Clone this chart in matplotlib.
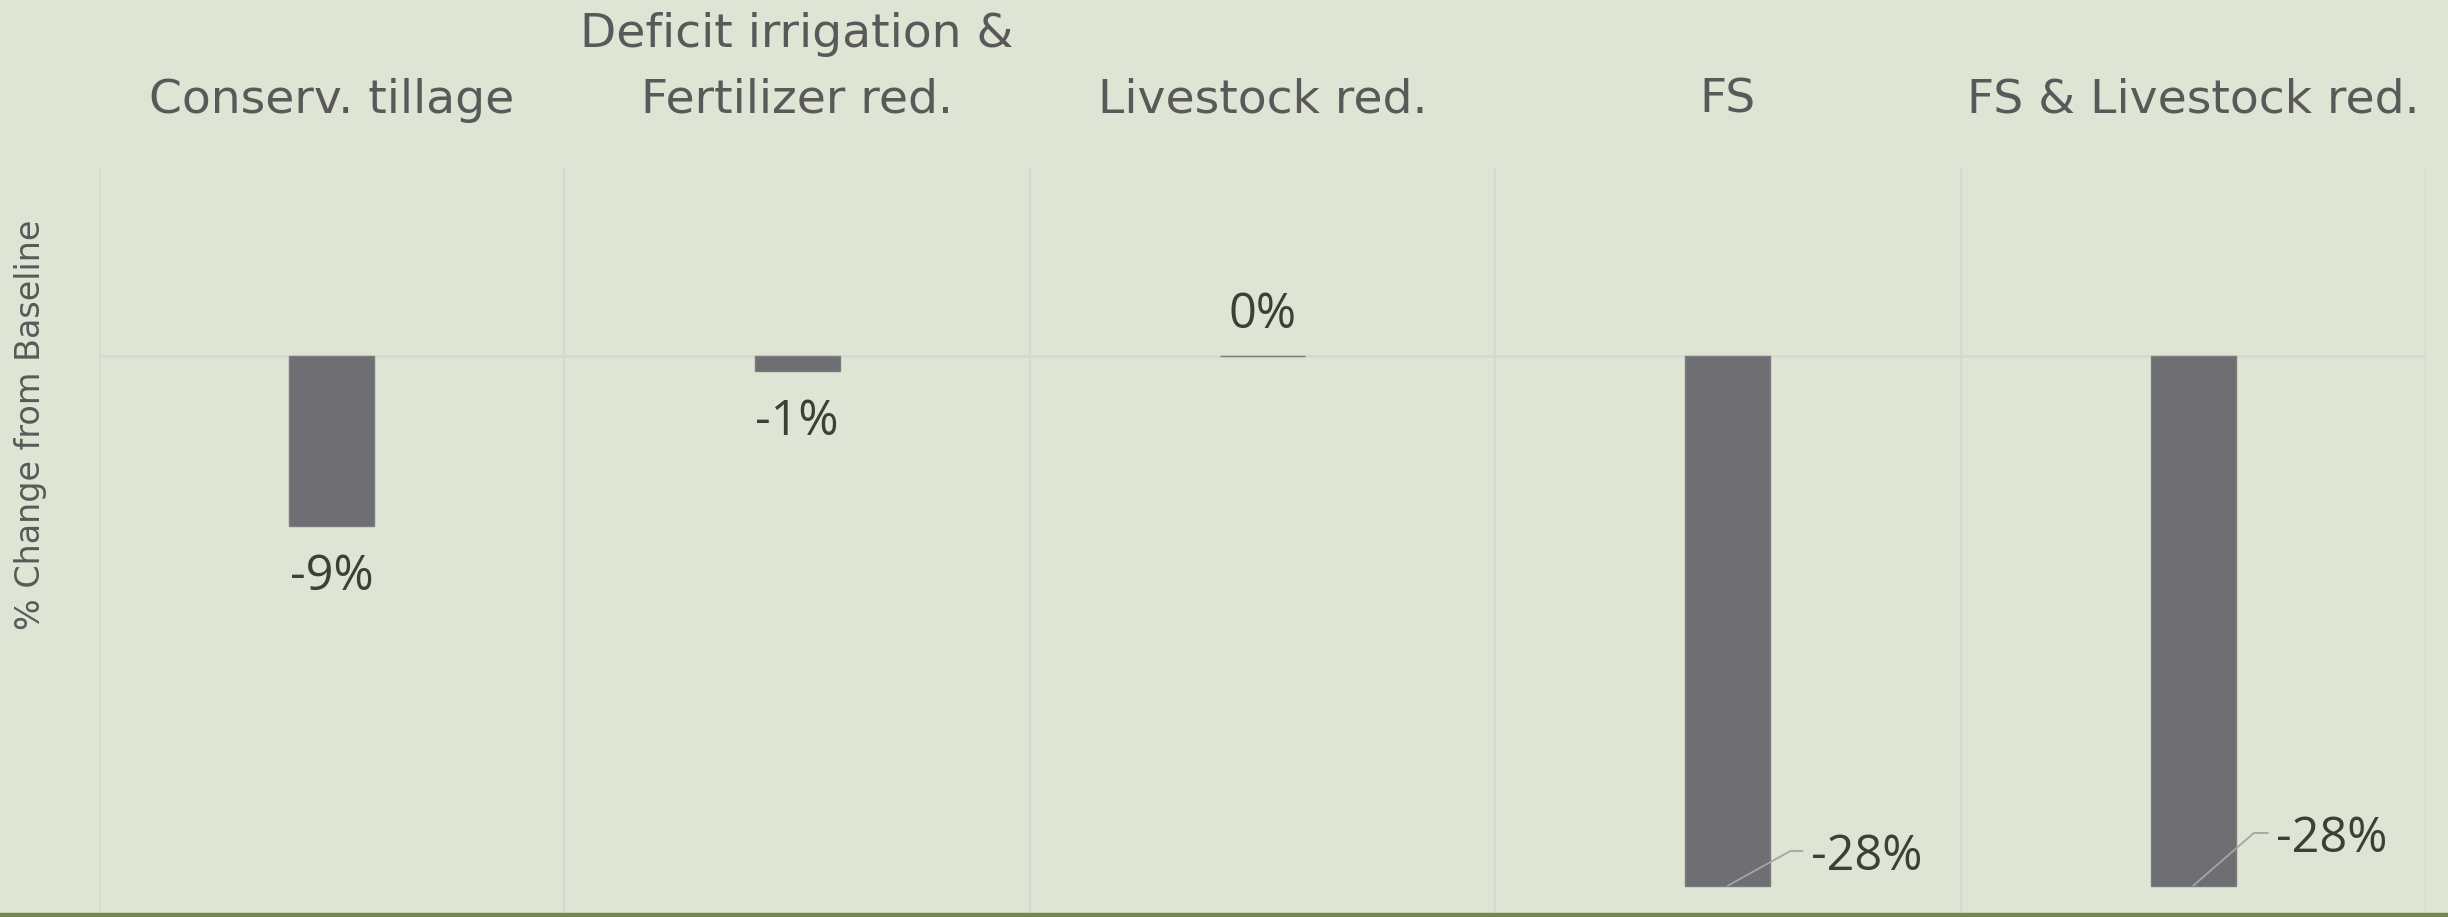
import matplotlib
matplotlib.use("Agg")
import matplotlib.pyplot as plt
from matplotlib.lines import Line2D

# ---- data ----
categories = ["Conserv. tillage", "Deficit irrigation &\nFertilizer red.", "Livestock red.",
              "FS", "FS & Livestock red."]
values = [-9.0, -0.8, 0.0, -28.0, -28.0]
value_labels = ["-9%", "-1%", "0%", "-28%", "-28%"]
ylabel = "% Change from Baseline"

# ---- style ----
BG = "#dee5d4"
BAR = "#6f6e73"
GRID = "#d6d9d2"
CAT_COL = "#595959"
LAB_COL = "#3d4134"
LEADER = "#a5a5a5"
GREEN = "#76884e"

W, H, DPI = 2448, 917, 100
fig = plt.figure(figsize=(W / DPI, H / DPI), dpi=DPI, facecolor=BG)
ax = fig.add_axes([99 / W, 1 - 914 / H, (2426 - 99) / W, (914 - 167) / H])
ax.set_facecolor(BG)

x = list(range(len(categories)))
bars = ax.bar(x, values, width=0.183, color=BAR, edgecolor="#7c7b80", linewidth=1.0, zorder=3)

ax.set_xlim(-0.5, len(categories) - 0.5)
ax.set_ylim(-29.5, 10)

# zero line and vertical separators
ax.axhline(0, color=GRID, lw=2, zorder=1)
ax.set_xticks([i - 0.5 for i in range(len(categories) + 1)], minor=True)
ax.grid(which="minor", axis="x", color=GRID, lw=1.6, zorder=0)
ax.tick_params(which="minor", length=0)

# category labels on top
ax.set_xticks(x)
ax.set_xticklabels(categories, fontfamily="DejaVu Sans", fontsize=34, color=CAT_COL, linespacing=1.58)
ax.xaxis.tick_top()
ax.tick_params(axis="x", which="major", length=0, pad=32)
ax.set_yticks([])
for s in ax.spines.values():
    s.set_visible(False)

# data labels
for i, (v, lab) in enumerate(zip(values, value_labels)):
    kw = dict(fontfamily="Open Sans", fontsize=35, color=LAB_COL, textcoords="offset pixels", zorder=5)
    if v <= -20:
        dy = 16 if i == 3 else 34
        ax.annotate(lab, xy=(i, v), xytext=(83, dy), ha="left", va="baseline",
                    arrowprops=dict(arrowstyle="-", color=LEADER, lw=1.3, shrinkA=4, shrinkB=0,
                                    relpos=(0, 0.62),
                                    connectionstyle="angle,angleA=0,angleB=%d,rad=0" % (29 if i == 3 else 41)),
                    **kw)
    elif v < 0:
        ax.annotate(lab, xy=(i, v), xytext=(0, -64), ha="center", va="baseline", **kw)
    else:
        ax.annotate(lab, xy=(i, v), xytext=(0, 28), ha="center", va="baseline", **kw)

# y label
fig.text(31 / W, 1 - 425 / H, ylabel, rotation=90, ha="center", va="center",
         fontfamily="DejaVu Sans", fontsize=24, color=CAT_COL)

# bottom green rule
fig.add_artist(Line2D([0, 1], [2 / H, 2 / H], transform=fig.transFigure, color=GREEN, lw=3.2))

fig.savefig("out.png", dpi=DPI, facecolor=BG)
